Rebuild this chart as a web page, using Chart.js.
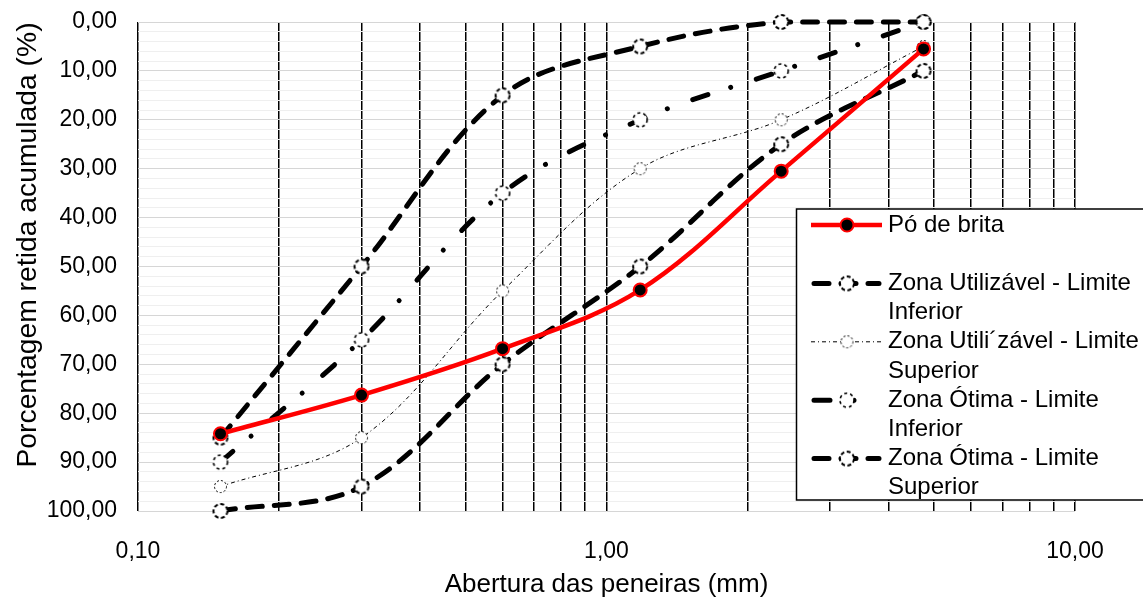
<!DOCTYPE html>
<html><head><meta charset="utf-8">
<script src="https://cdn.jsdelivr.net/npm/chart.js@4/dist/chart.umd.min.js"></script>
<style>html,body{margin:0;padding:0;background:#fff}</style>
</head><body>
<canvas id="c" width="1143" height="597"></canvas>
<script>
// ---- data ----
const sieveSizes = [0.15, 0.3, 0.6, 1.18, 2.36, 4.75];
const poDeBrita = [84.2, 76.3, 66.8, 54.8, 30.5, 5.5];
const utilInferior = [85, 50, 15, 5, 0, 0];
const utilSuperior = [95, 85, 55, 30, 20, 5];
const otimaInferior = [90, 65, 35, 20, 10, 0];
const otimaSuperior = [100, 95, 70, 50, 25, 10];
const seriesNames = [
  'Pó de brita',
  'Zona Utilizável - Limite Inferior',
  'Zona Utili´zável - Limite Superior',
  'Zona Ótima - Limite Inferior',
  'Zona Ótima - Limite Superior'
];
const xGridValues = [0.1,0.2,0.3,0.4,0.5,0.6,0.7,0.8,0.9,1,2,3,4,5,6,7,8,9,10];
const xLabeledTicks = [0.1, 1, 10];
const yLabelValues = [0,10,20,30,40,50,60,70,80,90,100];
const xTitle = 'Abertura das peneiras (mm)';
const yTitle = 'Porcentagem retida acumulada (%)';

const FONT = '"Liberation Sans", Arial, sans-serif';
const fmt = v => v.toFixed(2).replace('.', ',');
const pts = arr => sieveSizes.map((x, i) => ({x: x, y: arr[i]}));

function dashedCircle(r, lw, dash) {
  const s = Math.ceil(2 * r + lw + 2);
  const cv = document.createElement('canvas');
  cv.width = cv.height = s;
  const g = cv.getContext('2d');
  g.beginPath();
  g.arc(s / 2, s / 2, r, 0, Math.PI * 2);
  g.fillStyle = '#fff';
  g.fill();
  g.setLineDash(dash);
  g.lineWidth = lw;
  g.strokeStyle = '#000';
  g.stroke();
  return cv;
}
const thickMarker = dashedCircle(7, 2, [4, 2.5]);
const dashDotMarker = dashedCircle(7, 1.6, [3, 3]);
const thinMarker = dashedCircle(6, 1, [2, 2]);

const datasets = [
  {label: seriesNames[0], data: pts(poDeBrita), borderColor: '#ff0000', borderWidth: 4.5,
   pointRadius: 6.5, pointBackgroundColor: '#000', pointBorderColor: '#ff0000', pointBorderWidth: 2},
  {label: seriesNames[1], data: pts(utilInferior), borderColor: '#000', borderWidth: 5,
   borderDash: [15, 12], borderCapStyle: 'round', pointStyle: thickMarker},
  {label: seriesNames[2], data: pts(utilSuperior), borderColor: '#000', borderWidth: 1,
   borderDash: [4, 3, 1, 3], pointStyle: thinMarker},
  {label: seriesNames[3], data: pts(otimaInferior), borderColor: '#000', borderWidth: 5,
   borderDash: [16, 24, 0.01, 27], borderCapStyle: 'round', pointStyle: dashDotMarker},
  {label: seriesNames[4], data: pts(otimaSuperior), borderColor: '#000', borderWidth: 5,
   borderDash: [15, 12], borderCapStyle: 'round', pointStyle: thickMarker}
];
datasets.forEach(d => { d.tension = 0.35; d.fill = false; d.clip = 12; d.backgroundColor = d.borderColor; });

const legendPlugin = {
  id: 'customLegend',
  afterDraw(chart) {
    const ctx = chart.ctx;
    ctx.save();
    // y title
    ctx.save();
    ctx.translate(28, 245);
    ctx.rotate(-Math.PI / 2);
    ctx.font = '28.3px ' + FONT;
    ctx.fillStyle = '#000';
    ctx.textAlign = 'center';
    ctx.textBaseline = 'middle';
    ctx.fillText(yTitle, 0, 0);
    ctx.restore();

    // legend box
    const L = 796.5, T = 209, B = 500;
    ctx.fillStyle = '#fff';
    ctx.fillRect(L, T, 1150 - L, B - T);
    ctx.strokeStyle = '#000';
    ctx.lineWidth = 1.5;
    ctx.strokeRect(L, T, 1160 - L, B - T);

    ctx.font = '24px ' + FONT;
    ctx.textAlign = 'left';
    ctx.textBaseline = 'middle';
    const lh = 29.2, textX = 888, maxW = 258;
    chart.data.datasets.forEach((ds, i) => {
      const y = 225 + i * 2 * lh;
      // sample line
      ctx.save();
      ctx.strokeStyle = ds.borderColor;
      ctx.lineWidth = ds.borderWidth;
      ctx.lineCap = ds.borderCapStyle || 'butt';
      ctx.setLineDash(ds.borderDash || []);
      ctx.beginPath();
      ctx.moveTo(ds.borderCapStyle === 'round' ? 814 : 811, y);
      ctx.lineTo(ds.borderCapStyle === 'round' ? 879 : 882, y);
      ctx.stroke();
      ctx.restore();
      // marker
      if (ds.pointStyle instanceof HTMLCanvasElement) {
        const im = ds.pointStyle;
        ctx.drawImage(im, 847 - im.width / 2, y - im.height / 2);
      } else {
        ctx.beginPath();
        ctx.arc(847, y, ds.pointRadius, 0, Math.PI * 2);
        ctx.fillStyle = ds.pointBackgroundColor;
        ctx.fill();
        ctx.lineWidth = ds.pointBorderWidth;
        ctx.strokeStyle = ds.pointBorderColor;
        ctx.stroke();
      }
      // wrapped text
      const words = ds.label.split(' ');
      const lines = [];
      let cur = '';
      words.forEach(w => {
        const t = cur ? cur + ' ' + w : w;
        if (ctx.measureText(t).width > maxW && cur) { lines.push(cur); cur = w; }
        else cur = t;
      });
      if (cur) lines.push(cur);
      ctx.fillStyle = '#000';
      lines.forEach((ln, k) => ctx.fillText(ln, textX, y + k * lh));
    });
    ctx.restore();
  }
};

new Chart(document.getElementById('c'), {
  type: 'line',
  data: {datasets: datasets},
  options: {
    responsive: false,
    animation: false,
    devicePixelRatio: 1,
    layout: {padding: {left: 0, top: 22, right: 68, bottom: 0}},
    plugins: {legend: {display: false}, tooltip: {enabled: false}},
    scales: {
      x: {
        type: 'logarithmic', min: 0.1, max: 10,
        afterBuildTicks: s => { s.ticks = xGridValues.map(v => ({value: v})); },
        ticks: {
          autoSkip: false, maxRotation: 0, minRotation: 0, padding: 27, color: '#000',
          font: {family: FONT, size: 23},
          callback: v => xLabeledTicks.some(t => Math.abs(t - v) < 1e-9) ? fmt(v) : ''
        },
        grid: {color: '#000', lineWidth: 1.5, drawTicks: false},
        border: {display: false},
        title: {display: true, text: xTitle, color: '#000',
                font: {family: FONT, size: 26, lineHeight: 0.95}, padding: {top: 0, bottom: 0}},
        afterFit: s => { s.height = 86; s.paddingLeft = 0; s.paddingRight = 0; }
      },
      y: {
        type: 'linear', reverse: true, min: 0, max: 100,
        ticks: {
          stepSize: 2, autoSkip: false, padding: 21, color: '#000',
          font: {family: FONT, size: 23},
          callback: v => yLabelValues.includes(v) ? fmt(v) : ''
        },
        grid: {
          color: c => (c.tick && Math.round(c.tick.value) % 10 === 0) ? '#d6d6d6' : '#efefef',
          lineWidth: 1, drawTicks: false
        },
        border: {display: false},
        afterFit: s => { s.width = 138; s.paddingTop = 0; s.paddingBottom = 0; }
      }
    }
  },
  plugins: [legendPlugin]
});
</script>
</body></html>
